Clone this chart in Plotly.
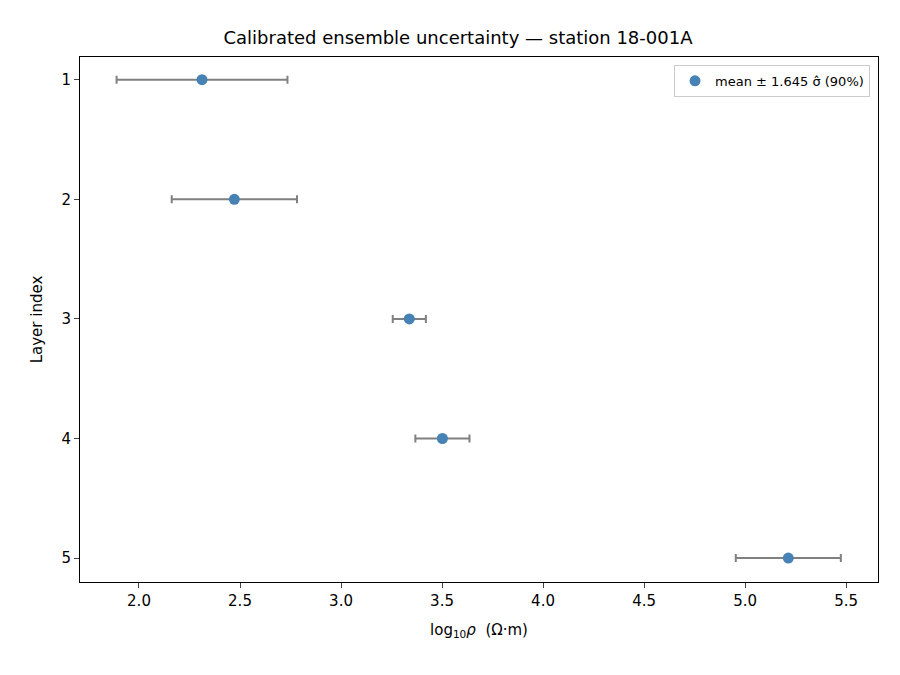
import plotly.graph_objects as go

layers = [1, 2, 3, 4, 5]
means = [2.312, 2.472, 3.338, 3.502, 5.214]
half_widths = [0.423, 0.310, 0.082, 0.134, 0.260]

fig = go.Figure()
fig.add_trace(go.Scatter(
    x=means, y=layers, mode="markers",
    marker=dict(color="#4682b4", size=11),
    error_x=dict(type="data", array=half_widths, color="gray", thickness=2, width=4),
    name="mean ± 1.645 σ̂ (90%)",
))
fig.update_layout(
    width=900, height=675, plot_bgcolor="white", paper_bgcolor="white",
    margin=dict(l=72, r=30, t=49, b=101),
    font=dict(family="DejaVu Sans", size=15, color="black"),
    title=dict(text="Calibrated ensemble uncertainty — station 18-001A", x=0.5, xanchor="center", y=0.965, font=dict(size=18)),
    showlegend=True,
    legend=dict(x=0.99, y=0.985, xanchor="right", yanchor="top", bordercolor="#cccccc", borderwidth=1, font=dict(size=13)),
)
fig.update_xaxes(range=[1.708, 5.658], tickvals=[2.0,2.5,3.0,3.5,4.0,4.5,5.0,5.5], ticktext=["2.0","2.5","3.0","3.5","4.0","4.5","5.0","5.5"],
                 showline=True, linecolor="black", mirror=True, ticks="outside", showgrid=False, zeroline=False,
                 title=dict(text="log<sub>10</sub><i>ρ</i>  (Ω·m)", font=dict(size=15)))
fig.update_yaxes(range=[5.2, 0.81], tickvals=layers, showline=True, linecolor="black", mirror=True, ticks="outside",
                 showgrid=False, zeroline=False, title=dict(text="Layer index", font=dict(size=15)))
fig.write_html("out.html")
